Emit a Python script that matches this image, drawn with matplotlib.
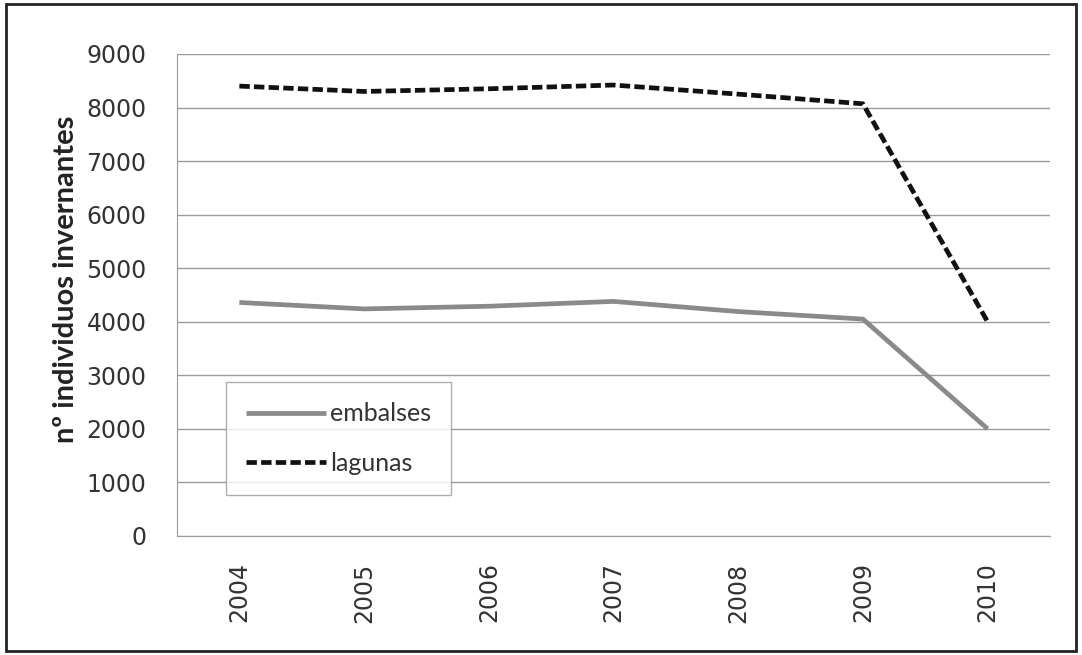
import matplotlib
matplotlib.use("Agg")
import matplotlib.pyplot as plt
from matplotlib.patches import Rectangle

years = ["2004", "2005", "2006", "2007", "2008", "2009", "2010"]
embalses = [4360, 4240, 4290, 4380, 4190, 4050, 2000]
lagunas = [8400, 8300, 8350, 8420, 8250, 8070, 4000]
yticks = [0, 1000, 2000, 3000, 4000, 5000, 6000, 7000, 8000, 9000]

fig = plt.figure(figsize=(10.82, 6.55), dpi=100)
ax = fig.add_axes([0.1636, 0.1817, 0.8068, 0.7359])

x = list(range(len(years)))
ax.plot(x, embalses, color="#8a8a8a", lw=3.4, label="embalses", solid_capstyle="butt")
ax.plot(x, lagunas, color="#111111", lw=3.4, ls=(0, (2.2, 0.9)), label="lagunas")

ax.set_xlim(-0.5, 6.5)
ax.set_ylim(0, 9000)
ax.set_yticks(yticks)
ax.set_yticklabels([str(v) for v in yticks], fontsize=17, color="#333333", family="DejaVu Sans")
ax.set_xticks(x)
ax.set_xticklabels(years, rotation=90, fontsize=17, color="#333333", family="DejaVu Sans")
ax.tick_params(axis="both", length=0)
ax.tick_params(axis="y", pad=22)
ax.tick_params(axis="x", pad=19)
ax.yaxis.grid(True, color="#9a9a9a", lw=1)
ax.set_axisbelow(True)
for s in ["top", "right"]:
    ax.spines[s].set_visible(False)
ax.spines["left"].set_color("#9a9a9a")
ax.spines["bottom"].set_color("#9a9a9a")

ax.set_ylabel("nº individuos invernantes", fontsize=21, fontweight="bold",
              family=["Lato", "DejaVu Sans"], color="#222222")
ax.yaxis.set_label_coords(-0.112, 0.533)

leg = ax.legend(loc="lower left", bbox_to_anchor=(0.042, 0.060), frameon=True, fancybox=False,
                edgecolor="#9a9a9a", handlelength=3.2, handletextpad=0.15,
                labelspacing=1.05, borderpad=0.8,
                prop={"family": ["Lato", "DejaVu Sans"], "size": 18})
leg.get_frame().set_linewidth(1)
for t in leg.get_texts():
    t.set_color("#333333")

fig.patches.append(Rectangle((0.006, 0.006), 0.988, 0.988, transform=fig.transFigure,
                             fill=False, edgecolor="#222222", lw=2))

fig.savefig("out.png", dpi=100)
